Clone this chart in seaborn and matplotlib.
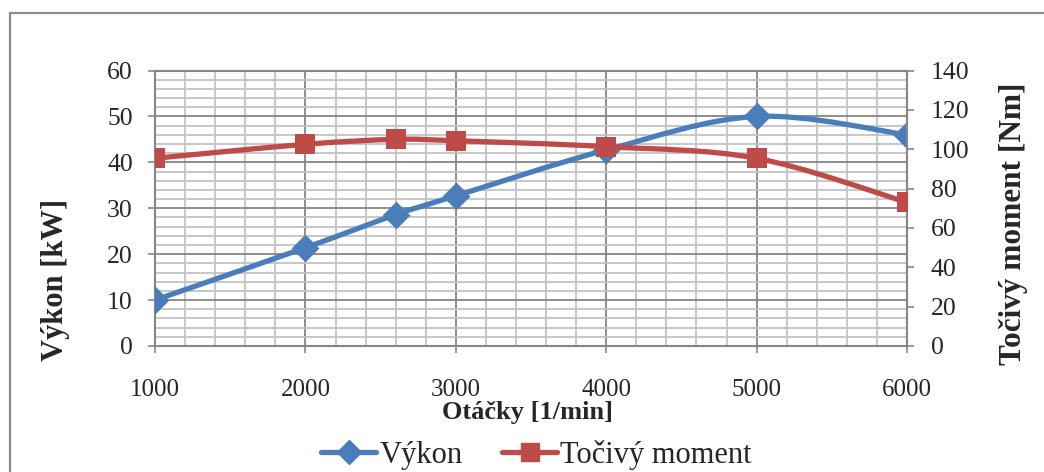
import numpy as np
import matplotlib
matplotlib.use("Agg")
import matplotlib.pyplot as plt
from matplotlib.path import Path
from matplotlib.patches import PathPatch, Rectangle
from matplotlib.lines import Line2D
from matplotlib.ticker import MultipleLocator
import seaborn as sns

# Engine speed characteristic
rpm = [1000, 2000, 2600, 3000, 4000, 5000, 6000]
power_kw = [10.0, 21.4, 28.6, 32.7, 42.7, 50.0, 46.0]
torque_nm = [95.4, 102.5, 105.0, 104.3, 101.3, 95.4, 73.0]

series_names = ["Výkon", "Točivý moment"]
x_label = "Otáčky [1/min]"
y_label_left = "Výkon [kW]"
y_label_right = "Točivý moment [Nm]"

BLUE = "#4a7ebb"
RED = "#be4b48"
AXIS_GREY = "#868686"
MINOR_GREY = "#c3c3c3"

sns.set_style("white")
plt.rcParams["font.family"] = ["Liberation Serif", "DejaVu Serif"]


def smooth_path(xs, ys):
    """Cubic Bezier path through the points (Catmull-Rom style smoothing)."""
    pts = np.column_stack([xs, ys]).astype(float)
    n = len(pts)
    verts = [pts[0]]
    codes = [Path.MOVETO]
    for i in range(n - 1):
        p0 = pts[i - 1] if i > 0 else pts[i]
        p1 = pts[i]
        p2 = pts[i + 1]
        p3 = pts[i + 2] if i + 2 < n else pts[i + 1]
        c1 = p1 + (p2 - p0) / 6.0
        c2 = p2 - (p3 - p1) / 6.0
        verts += [c1, c2, p2]
        codes += [Path.CURVE4] * 3
    return Path(verts, codes)


fig = plt.figure(figsize=(10.44, 4.72), dpi=100)
ax = fig.add_axes([0.1485, 0.267, 0.7203, 0.5836])
ax2 = ax.twinx()

# outer chart frame
fig.patches.append(Rectangle((9.5 / 1044, -0.2), 1.2, 1 - 13 / 472 + 0.2,
                             transform=fig.transFigure, fill=False,
                             edgecolor="#8c8c8c", linewidth=1.6, zorder=0))

ax.set_xlim(1000, 6000)
ax.set_ylim(0, 60)
ax2.set_ylim(0, 140)

ax.xaxis.set_major_locator(MultipleLocator(1000))
ax.xaxis.set_minor_locator(MultipleLocator(200))
ax.yaxis.set_major_locator(MultipleLocator(10))
ax.yaxis.set_minor_locator(MultipleLocator(2))
ax2.yaxis.set_major_locator(MultipleLocator(20))

ax.set_axisbelow(True)
ax.grid(which="minor", color=MINOR_GREY, linewidth=1.3)
ax.grid(which="major", color=AXIS_GREY, linewidth=1.3)

for a in (ax, ax2):
    for sp in a.spines.values():
        sp.set_color(AXIS_GREY)
        sp.set_linewidth(1.5)
ax2.spines["left"].set_visible(False)
ax2.spines["top"].set_visible(False)
ax2.spines["bottom"].set_visible(False)

ax.tick_params(axis="x", which="major", direction="out", length=5, width=1.2,
               color=AXIS_GREY, labelsize=18, pad=18.5, bottom=True)
ax.tick_params(axis="y", which="major", direction="out", length=5, width=1.2,
               color=AXIS_GREY, labelsize=18.5, pad=11, left=True)
ax.tick_params(which="minor", length=0)
ax2.tick_params(axis="y", which="major", direction="out", length=5, width=1.2,
                color=AXIS_GREY, labelsize=18.5, pad=12, right=True)
ax2.tick_params(axis="y", which="minor", length=0)

# power curve (left axis)
ax.add_patch(PathPatch(smooth_path(rpm, power_kw), fill=False, edgecolor=BLUE,
                       linewidth=3.8, capstyle="round", joinstyle="round", zorder=2))
sns.scatterplot(x=rpm, y=power_kw, marker="D", s=200, color=BLUE, linewidth=0,
                ax=ax, zorder=3, legend=False)

# torque curve (right axis)
ax2.add_patch(PathPatch(smooth_path(rpm, torque_nm), fill=False, edgecolor=RED,
                        linewidth=3.8, capstyle="round", joinstyle="round", zorder=2))
sns.scatterplot(x=rpm, y=torque_nm, marker="s", s=215, color=RED, linewidth=0,
                ax=ax2, zorder=3, legend=False)

ax.set_xlabel(x_label, fontsize=19, fontweight="bold")
ax.xaxis.set_label_coords(0.495, -0.24)
ax.xaxis.label.set_va("center")

ax.set_ylabel(y_label_left, fontsize=22, fontweight="bold")
ax.yaxis.set_label_coords(-0.133, 0.241)
ax.yaxis.label.set_va("center")

ax2.set_ylabel(y_label_right, fontsize=22.5, fontweight="bold")
ax2.yaxis.set_label_coords(1.141, 0.445)
ax2.yaxis.label.set_va("center")
ax2.yaxis.label.set_rotation(90)

handles = [
    Line2D([], [], color=BLUE, linewidth=3.8, marker="D", markersize=12.5),
    Line2D([], [], color=RED, linewidth=3.8, marker="s", markersize=13.5),
]
fig.legend(handles, series_names, loc="center", bbox_to_anchor=(0.514, 0.036),
           ncol=2, frameon=False, fontsize=22, handlelength=1.8,
           handletextpad=0.1, columnspacing=1.3)

fig.savefig("out.png", dpi=100)
